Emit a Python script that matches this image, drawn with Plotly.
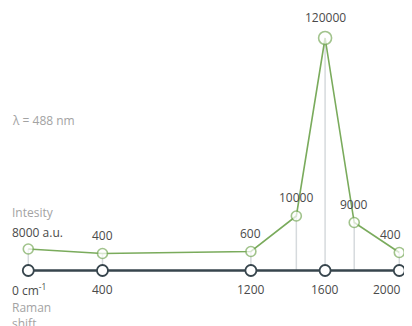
import plotly.graph_objects as go

# Data
shift_cm = [0, 400, 1200, 1445, 1600, 1757, 2000]          # Raman shift (cm-1) of each point
intensity_labels = ["8000 a.u.", "400", "600", "10000", "120000", "9000", "400"]
display_height = [21.5, 17, 19, 54.5, 232.5, 48, 18]       # drawn height of each point (arbitrary units)
axis_ticks = [0, 400, 1200, 1600, 2000]
axis_tick_labels = ["0 cm<sup>-1</sup>", "400", "1200", "1600", "2000"]

GREEN = "#7aab5c"
DARK = "#37454d"
GRID = "#d6dadd"
TEXT = "#4a4a4a"
MUTED = "#a3a3a3"
FONT = "Open Sans"

fig = go.Figure()

# vertical drop lines
xs, ys = [], []
for x, h in zip(shift_cm, display_height):
    xs += [x, x, None]
    ys += [0, h, None]
fig.add_trace(go.Scatter(x=xs, y=ys, mode="lines", line=dict(color=GRID, width=1.5),
                         hoverinfo="skip", showlegend=False))

# baseline axis
fig.add_trace(go.Scatter(x=axis_ticks, y=[0] * len(axis_ticks), mode="lines+markers",
                         line=dict(color=DARK, width=2.5),
                         marker=dict(size=11, color="white", line=dict(color=DARK, width=1.8)),
                         showlegend=False))

# spectrum line
sizes = [13 if h == max(display_height) else 10 for h in display_height]
fig.add_trace(go.Scatter(x=shift_cm, y=display_height, mode="lines+markers",
                         line=dict(color=GREEN, width=1.6),
                         marker=dict(size=sizes, color="white", line=dict(color=GREEN, width=1.6)),
                         showlegend=False))

last_x = max(shift_cm)
annotations = []
# value labels
for i, (x, h, lab) in enumerate(zip(shift_cm, display_height, intensity_labels)):
    if i == 0:
        annotations.append(dict(x=-97, y=h, text=lab, xanchor="left", yanchor="bottom",
                                yshift=6, showarrow=False, font=dict(size=12, color=TEXT, family=FONT)))
    elif x == last_x:
        annotations.append(dict(x=x, y=h, text=lab, xanchor="right", xshift=4, yanchor="bottom",
                                yshift=8, showarrow=False, font=dict(size=12, color=TEXT, family=FONT)))
    else:
        annotations.append(dict(x=x, y=h, text=lab, xanchor="center", yanchor="bottom",
                                yshift=8 if h != max(display_height) else 10,
                                showarrow=False, font=dict(size=12, color=TEXT, family=FONT)))
# axis labels
for i, (t, lab) in enumerate(zip(axis_ticks, axis_tick_labels)):
    if i == 0:
        annotations.append(dict(x=-97, y=0, text=lab, xanchor="left", yanchor="top", yshift=-8,
                                showarrow=False, font=dict(size=12, color=TEXT, family=FONT)))
    elif t == last_x:
        annotations.append(dict(x=t, y=0, text=lab, xanchor="right", xshift=4, yanchor="top", yshift=-8,
                                showarrow=False, font=dict(size=12, color=TEXT, family=FONT)))
    else:
        annotations.append(dict(x=t, y=0, text=lab, xanchor="center", yanchor="top", yshift=-8,
                                showarrow=False, font=dict(size=12, color=TEXT, family=FONT)))
# side captions
annotations += [
    dict(x=-97, y=150, text="λ = 488 nm", xanchor="left", yanchor="middle", showarrow=False,
         font=dict(size=12, color=MUTED, family=FONT)),
    dict(x=-97, y=58, text="Intesity", xanchor="left", yanchor="middle", showarrow=False,
         font=dict(size=12, color=MUTED, family=FONT)),
    dict(x=-97, y=-26, text="Raman<br>shift", xanchor="left", yanchor="top", showarrow=False,
         align="left", font=dict(size=12, color=MUTED, family=FONT)),
]

fig.update_layout(
    width=404, height=318,
    autosize=False,
    margin=dict(l=0, r=0, t=0, b=0),
    paper_bgcolor="white", plot_bgcolor="white",
    xaxis=dict(range=[-109.4, 2068.5], visible=False, fixedrange=True),
    yaxis=dict(range=[-55.5, 262.5], visible=False, fixedrange=True),
    annotations=annotations,
    font=dict(family=FONT),
)

fig.write_html("out.html", config={"responsive": False})
